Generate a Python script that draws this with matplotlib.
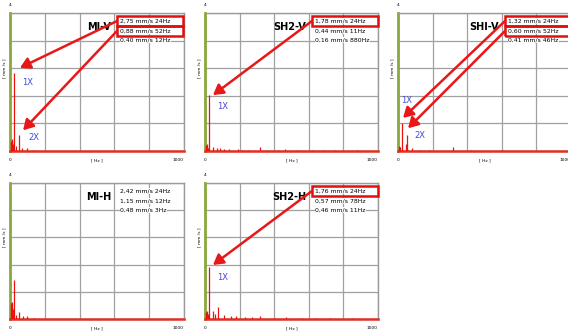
import matplotlib
matplotlib.use("Agg")
import matplotlib.pyplot as plt
from matplotlib.patches import Rectangle

W, H = 568, 335

# ---- data ----
titles = ["MI-V", "SH2-V", "SHI-V", "MI-H", "SH2-H"]
info_lines = [
    ["2,75 mm/s 24Hz", "0,88 mm/s 52Hz", "0,40 mm/s 12Hz"],
    ["1,78 mm/s 24Hz", "0,44 mm/s 11Hz", "0,16 mm/s 880Hz"],
    ["1,32 mm/s 24Hz", "0,60 mm/s 52Hz", "0,41 mm/s 46Hz"],
    ["2,42 mm/s 24Hz", "1,15 mm/s 12Hz", "0,48 mm/s 3Hz"],
    ["1,76 mm/s 24Hz", "0,57 mm/s 78Hz", "0,46 mm/s 11Hz"],
]
boxed = [[0, 1], [0], [0, 1], [], [0]]
harmonic_labels = [["1X", "2X"], ["1X"], ["1X", "2X"], [], ["1X"]]
freq_mi_v = [3, 6, 9, 12, 15, 18, 24, 36, 52, 70, 95, 130]
amp_mi_v = [0.30, 0.25, 0.33, 0.35, 0.20, 0.15, 2.26, 0.15, 0.45, 0.10, 0.08, 0.04]
freq_sh2_v = [3, 6, 9, 11, 15, 24, 48, 70, 87, 110, 140, 190, 215, 250, 318, 360, 420, 462, 530, 618, 680, 751, 880]
amp_sh2_v = [0.15, 0.18, 0.12, 0.20, 0.10, 1.62, 0.12, 0.10, 0.08, 0.06, 0.05, 0.07, 0.04, 0.04, 0.12, 0.03, 0.04, 0.05, 0.03, 0.04, 0.02, 0.03, 0.04]
freq_sh1_v = [3, 6, 10, 14, 24, 46, 52, 80, 120, 180, 318, 420, 600]
amp_sh1_v = [0.12, 0.15, 0.10, 0.12, 0.80, 0.20, 0.46, 0.10, 0.04, 0.03, 0.12, 0.03, 0.02]
freq_mi_h = [3, 6, 9, 12, 15, 18, 24, 36, 50, 75, 100, 140]
amp_mi_h = [0.48, 0.40, 0.35, 0.50, 0.30, 0.20, 1.15, 0.12, 0.20, 0.10, 0.08, 0.03]
freq_sh2_h = [3, 6, 11, 15, 24, 48, 60, 78, 110, 150, 180, 230, 270, 318, 400, 470, 560, 640, 720, 850]
amp_sh2_h = [0.20, 0.18, 0.25, 0.15, 1.53, 0.25, 0.15, 0.35, 0.12, 0.10, 0.08, 0.06, 0.05, 0.08, 0.04, 0.05, 0.03, 0.03, 0.03, 0.02]
freqs = [freq_mi_v, freq_sh2_v, freq_sh1_v, freq_mi_h, freq_sh2_h]
amps = [amp_mi_v, amp_sh2_v, amp_sh1_v, amp_mi_h, amp_sh2_h]
peak_1x = [24, 24, 24, None, 24]
peak_2x = [52, None, 52, None, None]
x_max, y_max = 1000, 4

# ---- styling offsets (Hz, mm/s) for arrow tips and harmonic labels ----
tip_off = [[(33, 0.15), (23, 0.15)], [(22, 0.0)], [(5, 0.16), (6, 0.2)], [], [(22, 0.06)]]
lab_off = [[(45, -0.28), (55, -0.05)], [(45, -0.34)], [(-5, 0.65), (40, 0.0)], [], [(45, -0.3)]]

# ---- layout (pixels: left, top, right, bottom) ----
boxes = [(10, 13, 184, 151), (205, 13, 378, 151), (398, 13, 571, 151),
         (10, 183, 184, 319), (205, 183, 378, 319)]

fig = plt.figure(figsize=(W / 100, H / 100), dpi=100)
fig.patch.set_facecolor("white")

GRID = "#a0a0a0"
for i, (x0, y0, x1, y1) in enumerate(boxes):
    pw, ph = x1 - x0, y1 - y0
    ax = fig.add_axes([x0 / W, 1 - y1 / H, pw / W, ph / H])
    ax.set_xlim(0, x_max)
    ax.set_ylim(0, y_max)
    ax.set_xticks([0, 200, 400, 600, 800, 1000])
    ax.set_yticks([0, 0.8, 1.6, 2.4, 3.2, 4])
    ax.grid(True, color=GRID, lw=0.9)
    ax.tick_params(length=0, labelbottom=False, labelleft=False)
    for s in ("top", "right"):
        ax.spines[s].set_color("#9a9a9a")
        ax.spines[s].set_linewidth(1.0)
    ax.spines["left"].set_color("#8aa83c")
    ax.spines["left"].set_linewidth(2.0)
    ax.spines["bottom"].set_color("#e03020")
    ax.spines["bottom"].set_linewidth(1.8)
    ax.set_axisbelow(True)

    ax.vlines(freqs[i], 0, amps[i], color="#ee1111", lw=0.9, zorder=3)

    def rel(dx, dy):
        return (dx / pw, 1 - dy / ph)

    # axis labels
    ax.text(*rel(0, -8), "4", fontsize=3.2, ha="center", va="center", transform=ax.transAxes)
    ax.text(*rel(0, ph + 9), "0", fontsize=3.2, ha="center", va="center", transform=ax.transAxes)
    ax.text(*rel(pw - 6, ph + 9), "1000", fontsize=3.2, ha="center", va="center", transform=ax.transAxes)
    ax.text(0.5, rel(0, ph + 9)[1], "[ Hz ]", fontsize=3.2, ha="center", va="center", transform=ax.transAxes)
    ax.text(*rel(-6, ph * 0.4), "[ mm /s ]", fontsize=3.2, ha="center", va="center",
            rotation=90, transform=ax.transAxes)

    # title
    ax.text(*rel(101, 14), titles[i], fontsize=7, fontweight="bold", ha="right", va="center",
            transform=ax.transAxes, zorder=5)

    # info lines
    line_dy = [8, 18, 27]
    for k, line in enumerate(info_lines[i]):
        ax.text(*rel(110, line_dy[k]), line, fontsize=4.4, ha="left", va="center",
                transform=ax.transAxes, zorder=5,
                bbox=dict(facecolor="white", edgecolor="none", pad=0.2))
        if k in boxed[i]:
            bx, by = rel(107, line_dy[k] + 5)
            r = Rectangle((bx, by), 66 / pw, 10 / ph, transform=ax.transAxes,
                          fill=False, edgecolor="#e01010", lw=1.8, clip_on=False, zorder=6)
            ax.add_patch(r)

    # arrows and harmonic labels
    peaks = [peak_1x[i], peak_2x[i]]
    for k, pf in enumerate(peaks):
        if pf is None:
            continue
        pa = amps[i][freqs[i].index(pf)]
        tdx, tdy = tip_off[i][k]
        ldx, ldy = lab_off[i][k]
        ax.annotate("", xy=(pf + tdx, pa + tdy), xycoords="data",
                    xytext=rel(107, line_dy[k]), textcoords="axes fraction",
                    arrowprops=dict(arrowstyle="-|>,head_width=0.35,head_length=0.6",
                                    color="#e81818", lw=1.8, shrinkA=0, shrinkB=0),
                    annotation_clip=False, zorder=7)
        ax.text(pf + ldx, pa + ldy, harmonic_labels[i][k], fontsize=6, color="#4848e0",
                ha="left", va="center", zorder=6)

fig.savefig("out.png", dpi=100, facecolor="white")
